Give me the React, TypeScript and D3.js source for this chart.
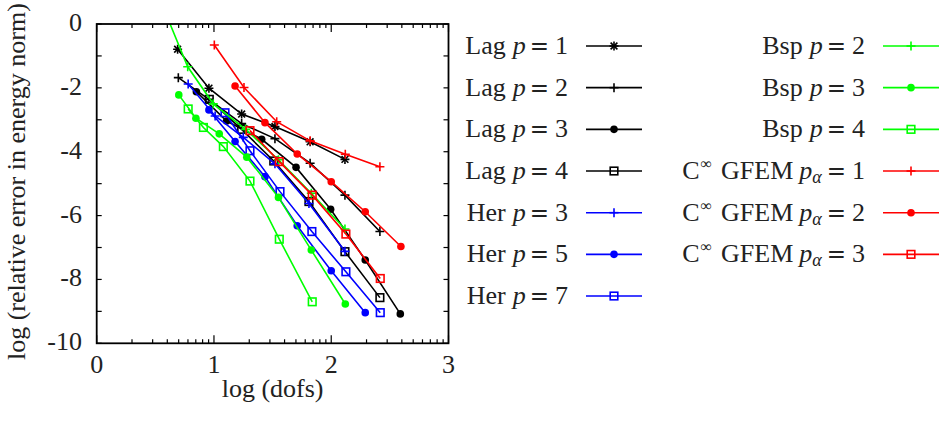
import React from "react";
import * as d3 from "d3";

// ---- data (log dofs, log relative error) ----
const lagP1X = [0.69, 0.957, 1.236, 1.52, 1.82, 2.117];
const lagP1Y = [-0.79, -2.01, -2.82, -3.21, -3.69, -4.24];
const lagP2X = [0.696, 0.957, 1.236, 1.52, 1.82, 2.117, 2.415];
const lagP2Y = [-1.68, -2.36, -3.12, -3.59, -4.36, -5.36, -6.5];
const lagP3X = [0.85, 1.108, 1.407, 1.7, 1.995, 2.29, 2.589];
const lagP3Y = [-2.12, -3.04, -3.61, -4.49, -5.8, -7.39, -9.08];
const lagP4X = [0.96, 1.236, 1.51, 1.81, 2.117, 2.415];
const lagP4Y = [-2.36, -3.3, -4.29, -5.56, -7.13, -8.57];
const herP3X = [0.78, 1.01, 1.25, 1.52, 1.81, 2.117];
const herP3Y = [-1.88, -2.88, -3.55, -4.38, -5.62, -7.12];
const herP5X = [0.957, 1.18, 1.435, 1.71, 2.0, 2.29];
const herP5Y = [-2.69, -3.68, -4.78, -6.32, -7.73, -9.04];
const herP7X = [1.094, 1.307, 1.563, 1.835, 2.125, 2.418];
const herP7Y = [-2.78, -3.97, -5.25, -6.5, -7.76, -9.04];
const bspP2X = [0.48, 0.776, 0.994, 1.27, 1.55, 1.83, 2.117];
const bspP2Y = [1.3, -1.34, -2.5, -3.3, -4.25, -5.3, -6.42];
const bspP3X = [0.7, 0.846, 1.045, 1.28, 1.55, 1.83, 2.12];
const bspP3Y = [-2.22, -2.95, -3.44, -4.17, -5.43, -7.08, -8.77];
const bspP4X = [0.78, 0.91, 1.08, 1.307, 1.557, 1.838];
const bspP4Y = [-2.66, -3.24, -3.84, -4.92, -6.74, -8.7];
const gfem1X = [1.003, 1.256, 1.535, 1.82, 2.12, 2.415];
const gfem1Y = [-0.66, -1.99, -3.06, -3.66, -4.08, -4.47];
const gfem2X = [1.18, 1.435, 1.71, 2.0, 2.29, 2.594];
const gfem2Y = [-1.94, -3.09, -4.07, -4.94, -5.88, -6.97];
const gfem3X = [1.307, 1.557, 1.838, 2.125, 2.418];
const gfem3Y = [-3.34, -4.31, -5.36, -6.58, -7.97];

const xTicks = [0, 1, 2, 3];
const yTicks = [0, -2, -4, -6, -8, -10];
const yMinor = [-1, -3, -5, -7, -9];

type Marker = "star" | "plus" | "circle" | "square";
interface Series {
  method: string;
  val: string;
  xs: number[];
  ys: number[];
  color: string;
  marker: Marker;
  col: number;
  row: number;
}

const series: Series[] = [
  { method: "Lag", val: "1", xs: lagP1X, ys: lagP1Y, color: "#000000", marker: "star", col: 0, row: 0 },
  { method: "Lag", val: "2", xs: lagP2X, ys: lagP2Y, color: "#000000", marker: "plus", col: 0, row: 1 },
  { method: "Lag", val: "3", xs: lagP3X, ys: lagP3Y, color: "#000000", marker: "circle", col: 0, row: 2 },
  { method: "Lag", val: "4", xs: lagP4X, ys: lagP4Y, color: "#000000", marker: "square", col: 0, row: 3 },
  { method: "Her", val: "3", xs: herP3X, ys: herP3Y, color: "#0000ff", marker: "plus", col: 0, row: 4 },
  { method: "Her", val: "5", xs: herP5X, ys: herP5Y, color: "#0000ff", marker: "circle", col: 0, row: 5 },
  { method: "Her", val: "7", xs: herP7X, ys: herP7Y, color: "#0000ff", marker: "square", col: 0, row: 6 },
  { method: "Bsp", val: "2", xs: bspP2X, ys: bspP2Y, color: "#00ff00", marker: "plus", col: 1, row: 0 },
  { method: "Bsp", val: "3", xs: bspP3X, ys: bspP3Y, color: "#00ff00", marker: "circle", col: 1, row: 1 },
  { method: "Bsp", val: "4", xs: bspP4X, ys: bspP4Y, color: "#00ff00", marker: "square", col: 1, row: 2 },
  { method: "GFEM", val: "1", xs: gfem1X, ys: gfem1Y, color: "#ff0000", marker: "plus", col: 1, row: 3 },
  { method: "GFEM", val: "2", xs: gfem2X, ys: gfem2Y, color: "#ff0000", marker: "circle", col: 1, row: 4 },
  { method: "GFEM", val: "3", xs: gfem3X, ys: gfem3Y, color: "#ff0000", marker: "square", col: 1, row: 5 },
];

const W = 939;
const H = 428;
const left = 96.7;
const right = 448.5;
const top = 24;
const bottom = 343.3;
const FONT = "'Liberation Serif', 'Times New Roman', serif";
const EQFONT = "'DejaVu Sans', sans-serif";
const FS = 26;

const xScale = d3.scaleLinear().domain([0, 3]).range([left, right]);
const yScale = d3.scaleLinear().domain([-10, 0]).range([bottom, top]);

function MarkerShape({ type, x, y, color }: { type: Marker; x: number; y: number; color: string }) {
  const s = 4.5;
  if (type === "star") {
    const d = 3.4;
    return (
      <g stroke={color} strokeWidth={1.6} fill="none">
        <line x1={x - s} y1={y} x2={x + s} y2={y} />
        <line x1={x} y1={y - s} x2={x} y2={y + s} />
        <line x1={x - d} y1={y - d} x2={x + d} y2={y + d} />
        <line x1={x - d} y1={y + d} x2={x + d} y2={y - d} />
      </g>
    );
  }
  if (type === "plus") {
    return (
      <g stroke={color} strokeWidth={1.6} fill="none">
        <line x1={x - s} y1={y} x2={x + s} y2={y} />
        <line x1={x} y1={y - s} x2={x} y2={y + s} />
      </g>
    );
  }
  if (type === "circle") {
    return <circle cx={x} cy={y} r={3.8} fill={color} stroke="none" />;
  }
  return <rect x={x - 3.8} y={y - 3.8} width={7.6} height={7.6} fill="none" stroke={color} strokeWidth={1.6} />;
}

function LegendLabel({ s, x, y }: { s: Series; x: number; y: number }) {
  if (s.method === "GFEM") {
    return (
      <text x={x} y={y} textAnchor="end" fontFamily={FONT} fontSize={FS} fill="#222">
        C<tspan fontSize={16} dy={-10} dx={1}>∞</tspan>
        <tspan dy={10} dx={9}>GFEM</tspan>
        <tspan dx={6} fontStyle="italic">p</tspan>
        <tspan fontStyle="italic" fontSize={18} dy={4}>α</tspan>
        <tspan dy={-4} dx={5} fontFamily={EQFONT} fontSize={23}>=</tspan>
        <tspan dx={6}>{s.val}</tspan>
      </text>
    );
  }
  return (
    <text x={x} y={y} textAnchor="end" fontFamily={FONT} fontSize={FS} fill="#222">
      {s.method}
      <tspan dx={7} fontStyle="italic">p</tspan>
      <tspan dx={4} fontFamily={EQFONT} fontSize={23}>=</tspan>
      <tspan dx={6}>{s.val}</tspan>
    </text>
  );
}

export default function App() {
  const line = d3
    .line<[number, number]>()
    .x((d) => xScale(d[0]))
    .y((d) => yScale(d[1]));

  const minorX: number[] = [];
  for (let n = 0; n < 3; n++) for (let k = 2; k <= 9; k++) minorX.push(n + Math.log10(k));

  const legendCols = [
    { textX: 568, lineX1: 586, lineX2: 642 },
    { textX: 865, lineX1: 883, lineX2: 939 },
  ];
  const rowY = (r: number) => 46 + r * 41.67;

  return (
    <svg width={W} height={H} style={{ position: "absolute", left: 0, top: 0, background: "#fff" }}>
      <defs>
        <clipPath id="plotclip">
          <rect x={left} y={top} width={right - left} height={bottom - top} />
        </clipPath>
      </defs>
      <rect x={0} y={0} width={W} height={H} fill="#fff" />

      {/* ticks */}
      <g stroke="#000" strokeWidth={1.2}>
        {minorX.map((v, i) => (
          <g key={"mx" + i}>
            <line x1={xScale(v)} y1={bottom} x2={xScale(v)} y2={bottom - 4} />
            <line x1={xScale(v)} y1={top} x2={xScale(v)} y2={top + 4} />
          </g>
        ))}
        {xTicks.map((v) => (
          <g key={"x" + v}>
            <line x1={xScale(v)} y1={bottom} x2={xScale(v)} y2={bottom - 8} />
            <line x1={xScale(v)} y1={top} x2={xScale(v)} y2={top + 8} />
          </g>
        ))}
        {[...yTicks, ...yMinor].map((v) => (
          <g key={"y" + v}>
            <line x1={left} y1={yScale(v)} x2={left + 5} y2={yScale(v)} />
            <line x1={right} y1={yScale(v)} x2={right - 5} y2={yScale(v)} />
          </g>
        ))}
      </g>

      {/* tick labels */}
      <g fontFamily={FONT} fontSize={FS} fill="#222">
        {xTicks.map((v) => (
          <text key={"xl" + v} x={xScale(v)} y={bottom + 30} textAnchor="middle">
            {String(v)}
          </text>
        ))}
        {yTicks.map((v) => (
          <text key={"yl" + v} x={82} y={yScale(v) + 7} textAnchor="end">
            {String(v)}
          </text>
        ))}
      </g>

      {/* axis titles */}
      <text x={(left + right) / 2} y={397} textAnchor="middle" fontFamily={FONT} fontSize={FS} fill="#222">
        log (dofs)
      </text>
      <text
        transform={`translate(25, ${(top + bottom) / 2 - 2}) rotate(-90)`}
        textAnchor="middle"
        fontFamily={FONT}
        fontSize={FS}
        fill="#222"
      >
        log (relative error in energy norm)
      </text>

      {/* series */}
      <g clipPath="url(#plotclip)">
        {series.map((s, i) => {
          const pts: [number, number][] = s.xs.map((x, j) => [x, s.ys[j]]);
          return (
            <g key={"s" + i}>
              <path d={line(pts) || ""} fill="none" stroke={s.color} strokeWidth={1.6} />
              {pts.map((p, j) => (
                <MarkerShape key={j} type={s.marker} x={xScale(p[0])} y={yScale(p[1])} color={s.color} />
              ))}
            </g>
          );
        })}
      </g>

      {/* frame */}
      <rect x={left} y={top} width={right - left} height={bottom - top} fill="none" stroke="#000" strokeWidth={1.8} />

      {/* legend */}
      {series.map((s, i) => {
        const c = legendCols[s.col];
        const y = rowY(s.row);
        return (
          <g key={"lg" + i}>
            <LegendLabel s={s} x={c.textX} y={y + 8} />
            <line x1={c.lineX1} y1={y} x2={c.lineX2} y2={y} stroke={s.color} strokeWidth={1.6} />
            <MarkerShape type={s.marker} x={(c.lineX1 + c.lineX2) / 2} y={y} color={s.color} />
          </g>
        );
      })}
    </svg>
  );
}
